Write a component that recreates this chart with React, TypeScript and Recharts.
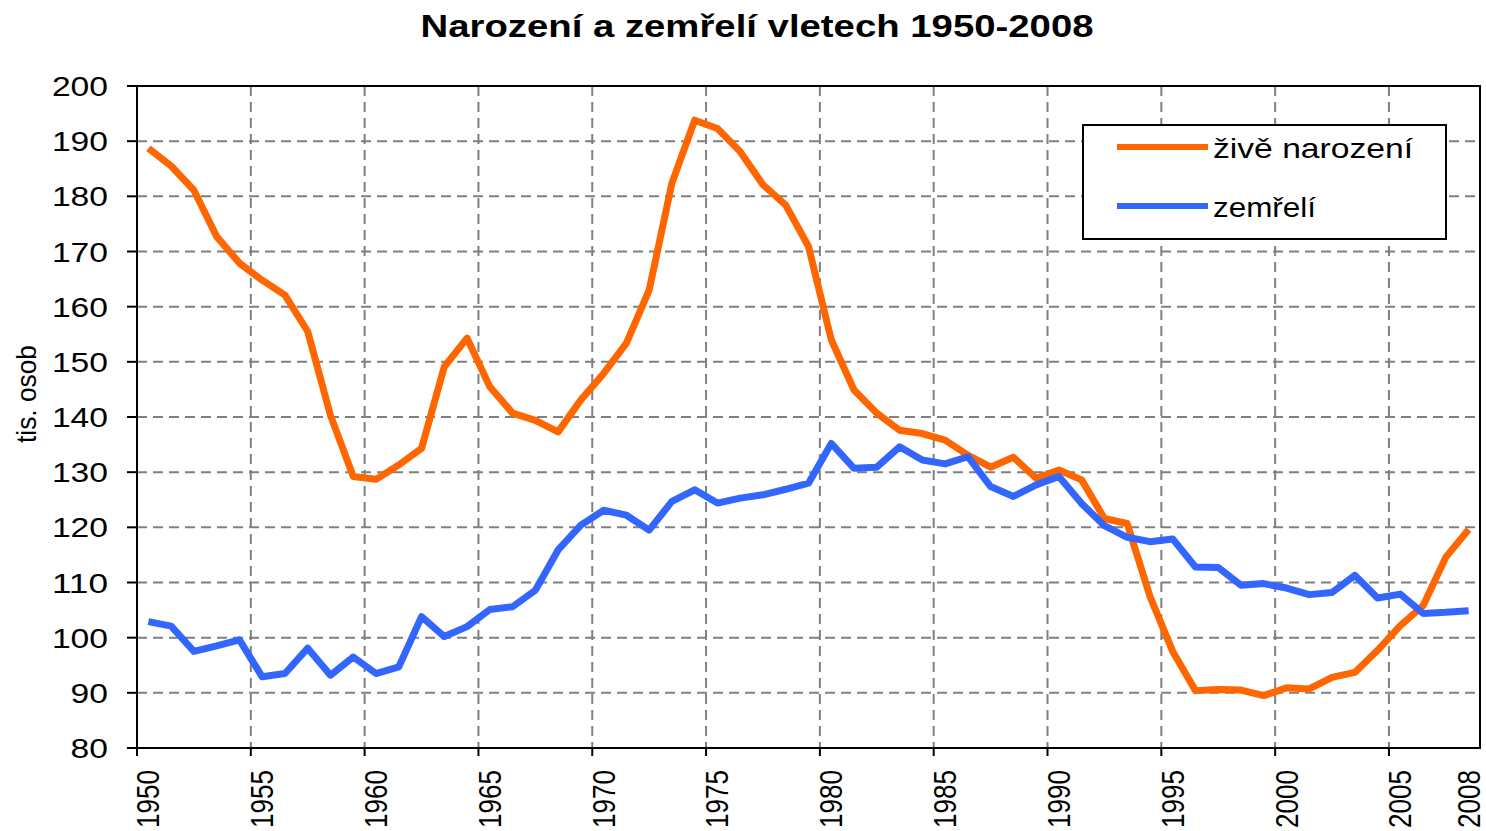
import { CartesianGrid, Legend, Line, LineChart, ReferenceArea, XAxis, YAxis } from "recharts";

// roky 1950-2008
const years = [
  1950, 1951, 1952, 1953, 1954, 1955, 1956, 1957, 1958, 1959,
  1960, 1961, 1962, 1963, 1964, 1965, 1966, 1967, 1968, 1969,
  1970, 1971, 1972, 1973, 1974, 1975, 1976, 1977, 1978, 1979,
  1980, 1981, 1982, 1983, 1984, 1985, 1986, 1987, 1988, 1989,
  1990, 1991, 1992, 1993, 1994, 1995, 1996, 1997, 1998, 1999,
  2000, 2001, 2002, 2003, 2004, 2005, 2006, 2007, 2008
];

// živě narození, tis. osob
const births = [
  188.7, 185.5, 181.1, 172.7, 167.9, 164.8, 162.1, 155.5, 140.3, 129.2,
  128.7, 131.3, 134.3, 149.1, 154.3, 145.5, 140.7, 139.4, 137.3, 143.1,
  147.9, 153.4, 163.0, 182.4, 193.8, 192.3, 188.1, 182.1, 178.4, 170.9,
  154.0, 144.9, 140.7, 137.6, 137.0, 135.8, 133.1, 130.9, 132.7, 128.9,
  130.4, 128.6, 121.6, 120.7, 107.5, 97.5, 90.4, 90.6, 90.5, 89.5,
  90.9, 90.7, 92.8, 93.7, 97.7, 102.2, 105.8, 114.6, 119.6
];

// zemřelí, tis. osob
const deaths = [
  102.9, 102.1, 97.5, 98.5, 99.6, 92.9, 93.5, 98.1, 93.2, 96.5,
  93.5, 94.7, 103.8, 100.2, 102.0, 105.1, 105.6, 108.6, 115.9, 120.4,
  123.1, 122.2, 119.5, 124.7, 126.8, 124.4, 125.3, 125.9, 126.9, 128.0,
  135.2, 130.7, 130.9, 134.6, 132.2, 131.5, 132.8, 127.4, 125.6, 127.7,
  129.2, 124.3, 120.3, 118.2, 117.4, 117.9, 112.8, 112.7, 109.5, 109.8,
  109.0, 107.8, 108.2, 111.3, 107.2, 107.9, 104.4, 104.6, 104.9
];

const yTicks = [80, 90, 100, 110, 120, 130, 140, 150, 160, 170, 180, 190, 200];
const xLabelTicks = [1950, 1955, 1960, 1965, 1970, 1975, 1980, 1985, 1990, 1995, 2000, 2005, 2008];
// hranice kategorií (mřížka a značky osy)
const xGridTicks = [1949.5, 1954.5, 1959.5, 1964.5, 1969.5, 1974.5, 1979.5, 1984.5, 1989.5, 1994.5, 1999.5, 2004.5];

const data = years.map((year, i) => ({ year, births: births[i], deaths: deaths[i] }));

const FONT = '"Liberation Sans", Arial, sans-serif';

const legendWidths: Record<string, number> = { births: 200, deaths: 103 };

function YTick({ x, y, payload }: any) {
  const label = String(payload.value);
  return (
    <text x={x} y={y} dy={10} textAnchor="end" fontFamily={FONT} fontSize={27} fill="#000"
      textLength={label.length * 18.7} lengthAdjust="spacingAndGlyphs">
      {label}
    </text>
  );
}

function XTick({ x, y, payload }: any) {
  return (
    <g transform={`translate(${x},${y + 14})`}>
      <text x={0} y={0} dy={11} transform="rotate(-90)" textAnchor="end" fontFamily={FONT} fontSize={32}
        fill="#000" textLength={58} lengthAdjust="spacingAndGlyphs">
        {payload.value}
      </text>
    </g>
  );
}

function EmptyTick() {
  return <g />;
}

function LegendBox({ payload }: any) {
  const order = ["births", "deaths"];
  const items = [...(payload ?? [])].sort((a: any, b: any) => order.indexOf(a.dataKey) - order.indexOf(b.dataKey));
  return (
    <svg width={365} height={116} style={{ display: "block" }}>
      <rect x={1} y={1} width={363} height={114} fill="#fff" stroke="#000" strokeWidth={2} />
      {items.map((item: any, i: number) => (
        <g key={item.value}>
          <line x1={35} x2={126} y1={23 + i * 59} y2={23 + i * 59} stroke={item.color} strokeWidth={6} />
          <text x={131} y={34 + i * 59} fontFamily={FONT} fontSize={28} fill="#000"
            textLength={legendWidths[item.dataKey] ?? 150} lengthAdjust="spacingAndGlyphs">
            {item.value}
          </text>
        </g>
      ))}
    </svg>
  );
}

export default function App() {
  return (
    <div style={{ position: "absolute", left: 0, top: 0, width: 1486, height: 831, background: "#fff" }}>
      <LineChart width={1486} height={831} data={data} margin={{ top: 86, right: 6, bottom: 0, left: 37 }}>
        <CartesianGrid xAxisId="grid" yAxisId="y" stroke="#808080" strokeWidth={2} strokeDasharray="10 6" />
        <XAxis xAxisId="grid" dataKey="year" type="number" domain={[1949.5, 2008.5]} ticks={xGridTicks}
          interval={0} height={8} tick={<EmptyTick />} tickSize={8} allowDataOverflow
          axisLine={{ stroke: "#000", strokeWidth: 2 }} tickLine={{ stroke: "#000", strokeWidth: 2 }} />
        <XAxis xAxisId="labels" dataKey="year" type="number" domain={[1949.5, 2008.5]} ticks={xLabelTicks}
          interval={0} height={75} tickSize={0} tickMargin={0} axisLine={false} tickLine={false}
          tick={<XTick />} allowDataOverflow />
        <YAxis yAxisId="y" type="number" domain={[80, 200]} ticks={yTicks} interval={0} width={100}
          tickSize={10} tickMargin={19} tick={<YTick />}
          axisLine={{ stroke: "#000", strokeWidth: 2 }} tickLine={{ stroke: "#000", strokeWidth: 2 }} />
        <ReferenceArea xAxisId="labels" yAxisId="y" x1={1949.5} x2={2008.5} y1={80} y2={200}
          fill="none" fillOpacity={0} stroke="#000" strokeWidth={2} ifOverflow="visible" />
        <Legend layout="horizontal" align="center" verticalAlign="middle" content={<LegendBox />}
          wrapperStyle={{ position: "absolute", left: 1082, top: 124, width: 365, height: 116 }} />
        <Line xAxisId="labels" yAxisId="y" type="linear" dataKey="births" name="živě narození" stroke="#FF6600"
          strokeWidth={7} strokeLinejoin="round" dot={false} isAnimationActive={false} />
        <Line xAxisId="labels" yAxisId="y" type="linear" dataKey="deaths" name="zemřelí" stroke="#3366FF"
          strokeWidth={7} strokeLinejoin="round" dot={false} isAnimationActive={false} />
      </LineChart>
      <svg width={1486} height={831} style={{ position: "absolute", left: 0, top: 0, pointerEvents: "none" }}>
        <text x={757} y={37} textAnchor="middle" fontFamily={FONT} fontWeight="bold" fontSize={32} fill="#000"
          textLength={673} lengthAdjust="spacingAndGlyphs">
          Narození a zemřelí vletech 1950-2008
        </text>
        <g transform="translate(36,394)">
          <text x={0} y={0} transform="rotate(-90)" textAnchor="middle" fontFamily={FONT} fontSize={28} fill="#000"
            textLength={98} lengthAdjust="spacingAndGlyphs">
            tis. osob
          </text>
        </g>
      </svg>
    </div>
  );
}
